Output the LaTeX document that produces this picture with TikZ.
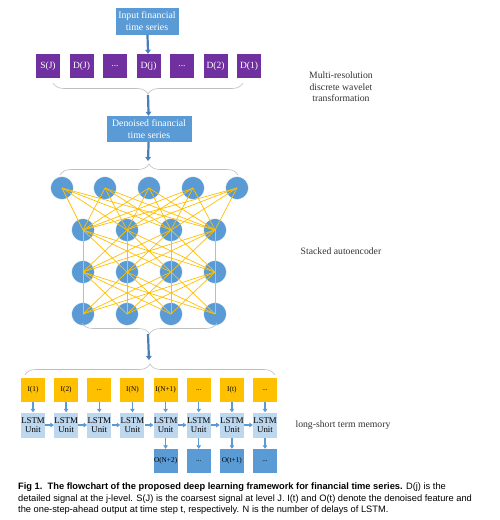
\documentclass[tikz,border=0pt]{standalone}
\usepackage{fontspec}
\setmainfont{Liberation Serif}
\newfontfamily\capfont{Liberation Sans}
\usetikzlibrary{positioning,calc,arrows.meta,decorations.pathreplacing}
\definecolor{boxblue}{HTML}{5B9BD5}
\definecolor{wavepurple}{HTML}{7030A0}
\definecolor{gateyellow}{HTML}{FFC000}
\definecolor{lstmblue}{HTML}{BDD7EE}
\definecolor{flowblue}{HTML}{4A7EBB}
\definecolor{bracegray}{HTML}{BFBFBF}
\newcommand{\dotsgap}{...}

\tikzset{
  tsbox/.style={fill=boxblue, text=white, inner sep=1pt, align=center, font=\fontsize{9.8}{12}\selectfont},
  wavebox/.style={fill=wavepurple, text=white, minimum size=24pt, inner sep=0pt, font=\fontsize{9.5}{10}\selectfont},
  neuron/.style={circle, fill=boxblue, draw=white, line width=0.4pt, minimum size=23pt, inner sep=0pt},
  synapse/.style={draw=gateyellow, line width=0.7pt},
  inbox/.style={fill=gateyellow, minimum size=24pt, inner sep=0pt, font=\fontsize{7.3}{8}\selectfont},
  cellbox/.style={fill=lstmblue, minimum width=24pt, minimum height=25pt, inner sep=0pt, align=center, font=\fontsize{8.8}{9}\selectfont},
  outbox/.style={fill=boxblue, minimum size=24pt, inner sep=0pt, font=\fontsize{7.3}{8}\selectfont},
  flow/.style={draw=flowblue, line width=2.2pt, -{Triangle[length=4pt,width=5.5pt]}},
  lstmflow/.style={draw=boxblue, line width=1.4pt, -{Triangle[length=3.5pt,width=4.5pt]}},
  curly/.style={draw=bracegray, line width=0.6pt, decorate, decoration={brace, amplitude=11pt}},
  sidelabel/.style={align=center, font=\fontsize{9.7}{11.5}\selectfont, text=black!80}
}

\begin{document}
\begin{tikzpicture}[x=1pt,y=-1pt]
\useasboundingbox (0,0) rectangle (500,520);
\fill[white] (0,0) rectangle (500,520);

% wavelet part
\node[tsbox, minimum width=63pt, minimum height=27pt] (input) at (147,21) {Input financial\\time series};
\foreach \t [count=\i] in {S(J),D(J),\dotsgap,D(j),\dotsgap,D(2),D(1)}
  \node[wavebox] (w\i) at ({48+(\i-1)*33.5},66) {\t};
\draw[curly, decoration={mirror}] (53,83) -- (243,83);
\coordinate (wtip) at (148,95);
\node[tsbox, minimum width=85pt, minimum height=26pt] (denoised) at (149,129) {Denoised financial\\time series};
\draw[flow] (input) -- (w4);
\draw[flow] (wtip) -- (denoised);

% stacked autoencoder
\draw[curly] (60,175) -- (238,175);
\coordinate (aetop) at (148,161);
\draw[flow] (denoised) -- (aetop);
\foreach \i/\x in {1/62,2/105,3/149,4/193,5/237}
  \node[neuron] (a\i) at (\x,188) {};
\foreach \r/\y in {b/230,c/272,d/314}
  \foreach \i/\x in {1/83,2/127,3/171,4/215}
    \node[neuron] (\r\i) at (\x,\y) {};
\foreach \i in {1,...,5}
  \foreach \j in {1,...,4}
    \draw[synapse] (a\i.center) -- (b\j.center);
\foreach \u/\v in {b/c,c/d}
  \foreach \i in {1,...,4}
    \foreach \j in {1,...,4}
      \draw[synapse] (\u\i.center) -- (\v\j.center);
\draw[curly, decoration={mirror}] (82,323) -- (217,323);
\coordinate (aebot) at (148,334);

% lstm part
\draw[curly] (25,375) -- (275,375);
\coordinate (lstmtop) at (149,360);
\draw[flow] (aebot) -- (lstmtop);
\foreach \t [count=\i] in {I(1),I(2),\dotsgap,I(N),I(N+1),\dotsgap,I(t),\dotsgap}
  \node[inbox] (x\i) at ({33+(\i-1)*33.15},390) {\t};
\foreach \i in {1,...,8} {
  \node[cellbox] (l\i) at ({33+(\i-1)*33.15},425) {LSTM\\Unit};
  \draw[lstmflow] (x\i) -- (l\i);
}
\foreach \i [remember=\i as \last (initially 1)] in {2,...,8}
  \draw[lstmflow] (l\last) -- (l\i);
\foreach \t [count=\i from 5] in {O(N+2),\dotsgap,O(t+1),\dotsgap} {
  \node[outbox] (y\i) at ({33+(\i-1)*33.15},461) {\t};
  \draw[lstmflow] (l\i) -- (y\i);
}

% side labels
\node[sidelabel] (dwtlabel) at (341,87) {Multi-resolution\\discrete wavelet\\transformation};
\node[sidelabel] (saelabel) at (341,251) {Stacked autoencoder};
\node[sidelabel] (lstmlabel) at (343,425) {long-short term memory};

% caption
\node[anchor=north west, inner sep=0pt, align=left, font=\capfont\fontsize{9.3}{11.5}\selectfont] (caption) at (18,483)
  {\textbf{Fig 1.\ \ The flowchart of the proposed deep learning framework for financial time series.} D(j) is the\\
   detailed signal at the j-level. S(J) is the coarsest signal at level J. I(t) and O(t) denote the denoised feature and\\
   the one-step-ahead output at time step t, respectively. N is the number of delays of LSTM.};
\end{tikzpicture}
\end{document}
